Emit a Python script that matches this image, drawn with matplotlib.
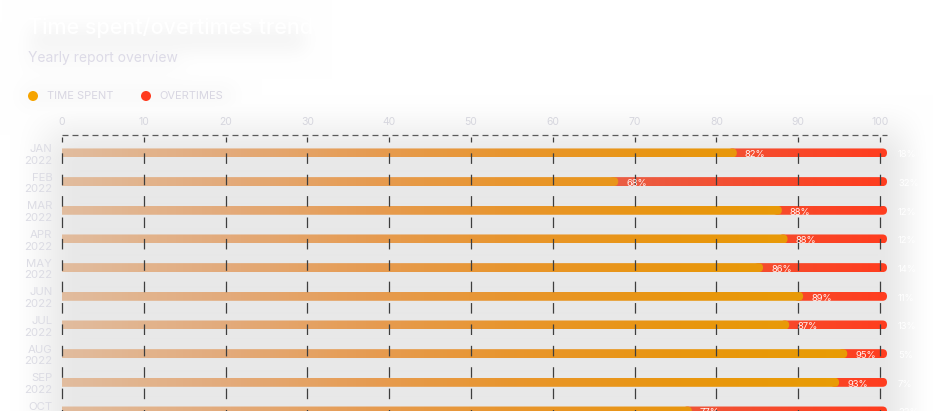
import numpy as np
import matplotlib
matplotlib.use('Agg')
import matplotlib.pyplot as plt
from matplotlib.patches import FancyBboxPatch, Circle
from matplotlib.colors import LinearSegmentedColormap

plt.rcParams['font.family'] = ['Inter', 'DejaVu Sans']
plt.rcParams['lines.scale_dashes'] = False

#%% data
months = ['JAN', 'FEB', 'MAR', 'APR', 'MAY', 'JUN', 'JUL', 'AUG', 'SEP', 'OCT']
year = '2022'
time_spent = [82.5, 68, 88, 88.7, 85.7, 90.6, 88.9, 96, 95, 77]
spent_labels = [82, 68, 88, 88, 86, 89, 87, 95, 93, 77]
x_ticks = [0, 10, 20, 30, 40, 50, 60, 70, 80, 90, 100]

#%% layout in pixels
W, H = 937, 411
x0_px, x_px = 62, 8.18      # px of value 0, px per unit
row0_px, row_px = 153, 28.8  # px of first row, px per row
top_px = 135
x_max = 102.0

fig = plt.figure(figsize=(W / 100, H / 100), dpi=100)
fig.patch.set_facecolor('white')

#%% soft grey backdrop with white fade on the edges
bg = fig.add_axes([0, 0, 1, 1], zorder=-10)
bg.set_axis_off()
xx, yy = np.meshgrid(np.arange(W), np.arange(H))

def smooth(v):
    v = np.clip(v, 0, 1)
    return v * v * (3 - 2 * v)

def blur(a, s):
    k = np.exp(-0.5 * (np.arange(-3 * s, 3 * s + 1) / s) ** 2)
    k = k / k.sum()
    a = np.apply_along_axis(lambda r: np.convolve(r, k, mode='same'), 1, a)
    a = np.apply_along_axis(lambda c: np.convolve(c, k, mode='same'), 0, a)
    return a

mask = smooth((xx - 10) / 70.0) * (1 - smooth((xx - 878) / 55.0)) * smooth((yy - 95) / 70.0)
blob = np.zeros((H, W))
blob[28:52, 30:305] = 0.45
blob[50:70, 25:180] = 0.2
blob[85:108, 20:235] = 0.25
blob = blur(blob, 9)
mask = np.clip(np.maximum(mask, blob), 0, 1)
grey = 255 - mask * (255 - 232)
img = np.dstack([grey, grey, grey]) / 255.0
bg.imshow(img, extent=[0, W, H, 0], aspect='auto', interpolation='bilinear')
bg.set_xlim(0, W)
bg.set_ylim(H, 0)

#%% main axes
ax_left = x0_px / W
ax_w = x_max * x_px / W
ax_h = (H - top_px) / H
ax = fig.add_axes([ax_left, 0, ax_w, ax_h])
ax.patch.set_alpha(0)
y_top = (top_px - row0_px) / row_px
y_bot = (H - row0_px) / row_px
for s in ax.spines.values():
    s.set_visible(False)

orange_cmap = LinearSegmentedColormap.from_list('spent', [
    (0.0, '#e1bc9e'), (0.2, '#e3aa7a'), (0.38, '#e69b50'),
    (0.55, '#e8952c'), (0.75, '#e8960f'), (1.0, '#e99d00')])
red_cmap = LinearSegmentedColormap.from_list('over', [
    (0.0, '#e27866'), (0.6, '#e5664f'), (0.75, '#ef5539'),
    (0.9, '#f94728'), (1.0, '#ff3d1f')])

bar_h = 9 / row_px
rx = 4.5 / x_px
aspect = x_px / row_px
red_end = 100 + 7 / x_px
grad = np.linspace(0, 1, 256).reshape(1, -1)

for i, (t, lab) in enumerate(zip(time_spent, spent_labels)):
    yb = i - bar_h / 2
    # overtimes part
    p_red = FancyBboxPatch((t - 2 * rx, yb), red_end - (t - 2 * rx), bar_h,
                           boxstyle=f'round,pad=0,rounding_size={rx}',
                           mutation_aspect=aspect, facecolor='none', edgecolor='none')
    ax.add_patch(p_red)
    im = ax.imshow(grad, extent=[0, 101, yb + bar_h, yb], cmap=red_cmap,
                   aspect='auto', zorder=2, interpolation='bilinear')
    im.set_clip_path(p_red)
    # time spent part
    p_or = FancyBboxPatch((-1, yb), t + 1, bar_h,
                          boxstyle=f'round,pad=0,rounding_size={rx}',
                          mutation_aspect=aspect, facecolor='none', edgecolor='none')
    ax.add_patch(p_or)
    im = ax.imshow(grad, extent=[0, 101, yb + bar_h, yb], cmap=orange_cmap,
                   aspect='auto', zorder=3, interpolation='bilinear')
    im.set_clip_path(p_or)
    ax.text(t + 8 / x_px, i + 2 / row_px, f'{lab}%', color='white', fontsize=6.8,
            va='center', ha='left', zorder=6, alpha=0.95)
    ax.text(100 + 18 / x_px, i + 2 / row_px, f'{100 - lab}%', color='white',
            fontsize=6.8, va='center', ha='left', zorder=6, clip_on=False)

# dashed grid on top of the bars
for x in x_ticks:
    ax.plot([x, x], [y_top + 2 / row_px, 10], color='#3e3e3e', lw=0.9,
            linestyle=(4.0, (7.6, 7.8)), zorder=5, clip_on=False)
ax.plot([0, red_end], [y_top, y_top], color='#5a5a5a', lw=0.9,
        linestyle=(0, (4.3, 2.9)), zorder=5, clip_on=False)

ax.set_xlim(0, x_max)
ax.set_ylim(y_bot, y_top)
ax.set_xticks(x_ticks)
ax.xaxis.tick_top()
ax.tick_params(axis='x', length=0, pad=5.5, labelsize=7.5, labelcolor='#d6d6de')
ax.set_yticks(range(len(months)))
ax.set_yticklabels([m + '\n' + year for m in months], linespacing=1.2)
ax.tick_params(axis='y', length=0, pad=7, labelsize=8.2, labelcolor='#dcdce4')

#%% title, subtitle and legend
fig.text(28 / W, 1 - 27 / H, 'Time spent/overtimes trend', color='white',
         fontsize=15.5, va='center', ha='left', fontweight='medium')
fig.text(28 / W, 1 - 58 / H, 'Yearly report overview', color='#dddbe7',
         fontsize=10, va='center', ha='left')

leg = fig.add_axes([0, 0, 1, 1], zorder=5)
leg.set_axis_off()
leg.set_xlim(0, W)
leg.set_ylim(H, 0)
leg.set_aspect('auto')
leg.add_patch(Circle((33, 96), 5, color='#f6a400', lw=0))
leg.add_patch(Circle((146, 96), 5, color='#ff3b1f', lw=0))
leg.text(47, 96, 'TIME SPENT', color='#d8d6e2', fontsize=8, va='center', ha='left')
leg.text(159, 96, 'OVERTIMES', color='#d8d6e2', fontsize=8, va='center', ha='left')

fig.savefig('out.png', dpi=100)
plt.close()
